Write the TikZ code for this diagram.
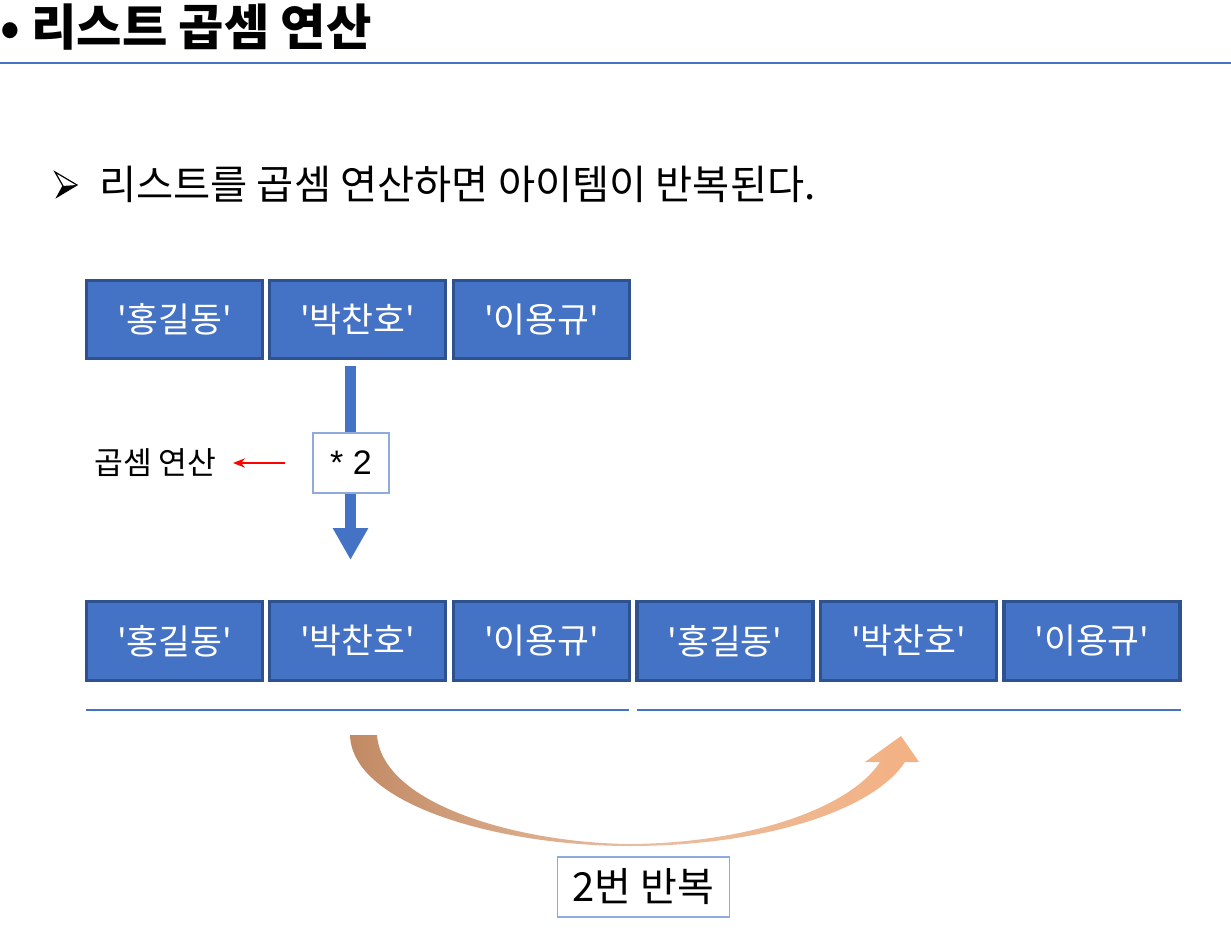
\documentclass[tikz,border=0pt]{standalone}
\usepackage{fontspec}
\setmainfont{Noto Sans CJK KR}
\newfontfamily\krfont{Noto Sans CJK KR}
\newfontfamily\arialfont{Liberation Sans}
\usetikzlibrary{arrows.meta,shadings}
\definecolor{boxblue}{HTML}{4472C4}
\definecolor{boxedge}{HTML}{2F528F}
\definecolor{lineblue}{HTML}{4472C4}
\definecolor{lightedge}{HTML}{8FAADC}
\definecolor{brownA}{HTML}{C18A64}
\definecolor{peachB}{HTML}{F4B183}
\begin{document}
\begin{tikzpicture}[x=0.75pt,y=-0.75pt,
  itembox/.style={draw=boxedge,line width=2.4pt,fill=boxblue,text=white,
    minimum width=132pt,minimum height=59pt,inner sep=0pt,
    font=\krfont\fontsize{26}{30}\selectfont},
  opbox/.style={draw=lightedge,line width=0.8pt,fill=white,inner sep=0pt},
  uline/.style={draw=lineblue,line width=0.8pt}]
\useasboundingbox (0,0) rectangle (1231,937);
% title
\node[anchor=west,inner sep=0pt,font=\krfont\bfseries\fontsize{37}{42}\selectfont] (title) at (0,27) {• 리스트 곱셈 연산};
\coordinate (hl) at (0,63);
\coordinate (hr) at (1231,63);
\draw[uline] (hl) -- (hr);
% bullet line
\draw[line width=0.9pt,line join=miter] (55,172) -- (77,185) -- (57,197) -- (63,186) -- cycle;
\fill (63,186) -- (77,185) -- (57,197) -- cycle;
\node[anchor=west,inner sep=0pt,font=\krfont\fontsize{30.3}{35}\selectfont] (sub) at (99,184) {리스트를 곱셈 연산하면 아이템이 반복된다.};
% top row
\node[itembox] (a1) at (174.5,319.5) {'홍길동'};
\node[itembox] (a2) at (357.5,319.5) {'박찬호'};
\node[itembox] (a3) at (541.5,319.5) {'이용규'};
% down arrow
\coordinate (ds) at (350.5,366);
\coordinate (de) at (350.5,560);
\draw[draw=boxblue,line width=8.25pt,-{Triangle[width=25pt,length=24pt]}] (ds) -- (de);
\node[opbox,minimum width=57pt,minimum height=45pt,font=\arialfont\fontsize{25.5}{30}\selectfont] (op) at (351,463) {* 2};
% label
\node[anchor=west,inner sep=0pt,font=\krfont\fontsize{23.5}{27}\selectfont] (lab) at (94,463) {곱셈 연산};
\coordinate (rs) at (285,463);
\coordinate (re) at (233,463);
\draw[red,line width=1.3pt,-{Stealth[length=9pt,width=7pt]}] (rs) -- (re);
% bottom row
\node[itembox] (b1) at (174.5,641) {'홍길동'};
\node[itembox] (b2) at (357.5,641) {'박찬호'};
\node[itembox] (b3) at (541.5,641) {'이용규'};
\node[itembox] (b4) at (725,641) {'홍길동'};
\node[itembox] (b5) at (908.5,641) {'박찬호'};
\node[itembox] (b6) at (1092,641) {'이용규'};
% underlines
\coordinate (l1a) at (86,710);
\coordinate (l1b) at (629,710);
\coordinate (l2a) at (637,710);
\coordinate (l2b) at (1181,710);
\draw[uline] (l1a) -- (l1b);
\draw[uline] (l2a) -- (l2b);
% curved arrow
\shade[left color=brownA,right color=peachB,middle color=peachB!60!brownA!70!white]
  (350,735) .. controls (352,805) and (500,846) .. (630,846)
  .. controls (760,846) and (872,812) .. (905,762)
  -- (919,762) -- (901,736) -- (865,762) -- (880,762)
  .. controls (850,808) and (750,843) .. (630,844)
  .. controls (520,843) and (382,805) .. (377,735) -- cycle;
% repeat box
\node[opbox,minimum width=129pt,minimum height=45pt,font=\krfont\fontsize{30}{34}\selectfont] (rep) at (643.5,887) {2번 반복};
\end{tikzpicture}
\end{document}
